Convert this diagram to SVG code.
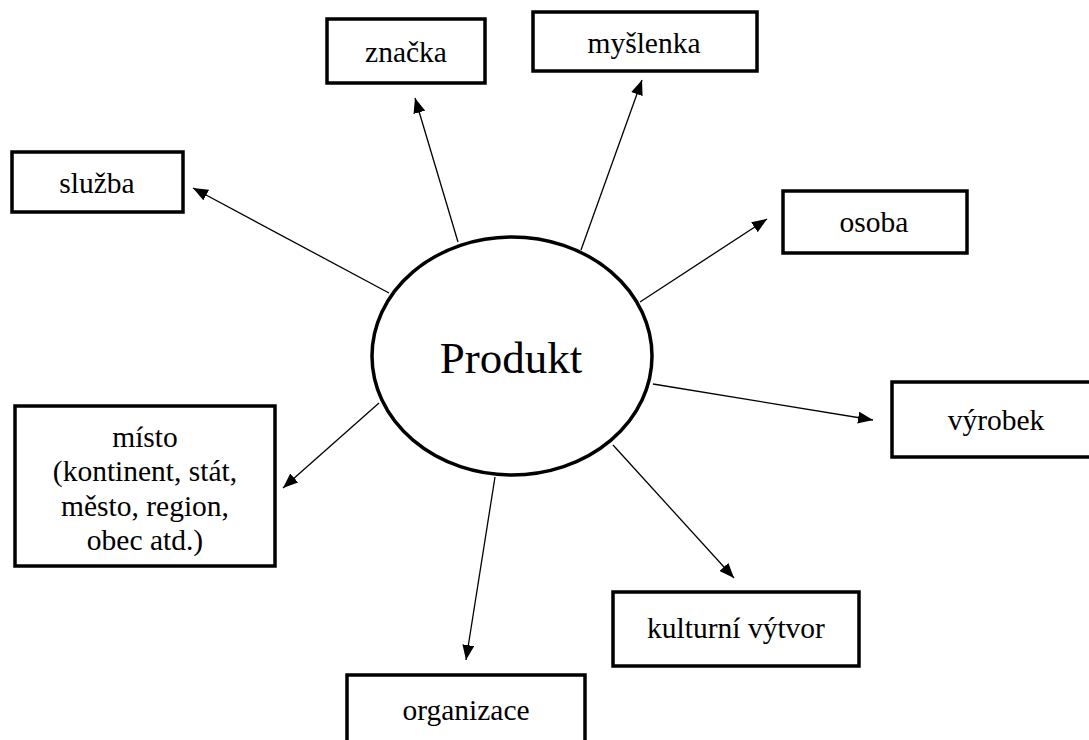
<svg xmlns="http://www.w3.org/2000/svg" width="1089" height="740" viewBox="0 0 1089 740">
<style>
.box{fill:#fff;stroke:#000;stroke-width:3.5}
.lbl{font-family:"Liberation Serif","Times New Roman",serif;font-size:29.5px;fill:#000;text-anchor:middle}
.con{stroke:#000;stroke-width:1.3;fill:none;marker-end:url(#ah)}
</style>
<defs>
<marker id="ah" markerUnits="userSpaceOnUse" markerWidth="15" markerHeight="12" refX="15" refY="6" orient="auto">
<path d="M0,0 L15,6 L0,12 z" fill="#000"/>
</marker>
</defs>
<rect width="1089" height="740" fill="#fff"/>
<g id="connectors">
<line class="con" x1="389" y1="293" x2="193" y2="188"/>
<line class="con" x1="458" y1="242" x2="415" y2="98"/>
<line class="con" x1="581" y1="250" x2="642" y2="80"/>
<line class="con" x1="640" y1="302" x2="767" y2="219"/>
<line class="con" x1="653" y1="384" x2="873" y2="420"/>
<line class="con" x1="613" y1="445" x2="734" y2="578"/>
<line class="con" x1="495" y1="477" x2="466" y2="660"/>
<line class="con" x1="379" y1="403" x2="283" y2="488"/>
</g>
<g id="produkt">
<ellipse cx="512" cy="356" rx="140" ry="119" fill="#fff" stroke="#000" stroke-width="3.5"/>
<text x="511" y="373" class="lbl" style="font-size:45px">Produkt</text>
</g>
<g id="znacka">
<rect class="box" x="327" y="19" width="158" height="64"/>
<text class="lbl" x="406" y="62">značka</text>
</g>
<g id="myslenka">
<rect class="box" x="533" y="12" width="224" height="59"/>
<text class="lbl" x="644" y="53">myšlenka</text>
</g>
<g id="sluzba">
<rect class="box" x="12" y="152" width="171" height="60"/>
<text class="lbl" x="97" y="193">služba</text>
</g>
<g id="osoba">
<rect class="box" x="783" y="191" width="184" height="62"/>
<text class="lbl" x="874" y="232">osoba</text>
</g>
<g id="vyrobek">
<rect class="box" x="892" y="382" width="210" height="75"/>
<text class="lbl" x="996" y="430">výrobek</text>
</g>
<g id="kulturni">
<rect class="box" x="613" y="592" width="246" height="74"/>
<text class="lbl" x="736" y="638">kulturní výtvor</text>
</g>
<g id="organizace">
<rect class="box" x="347" y="675" width="238" height="80"/>
<text class="lbl" x="466" y="720">organizace</text>
</g>
<g id="misto">
<rect class="box" x="15" y="406" width="260" height="160"/>
<text class="lbl" x="145" y="447">místo</text>
<text class="lbl" x="145" y="481">(kontinent, stát,</text>
<text class="lbl" x="145" y="516">město, region,</text>
<text class="lbl" x="145" y="550">obec atd.)</text>
</g>
</svg>
